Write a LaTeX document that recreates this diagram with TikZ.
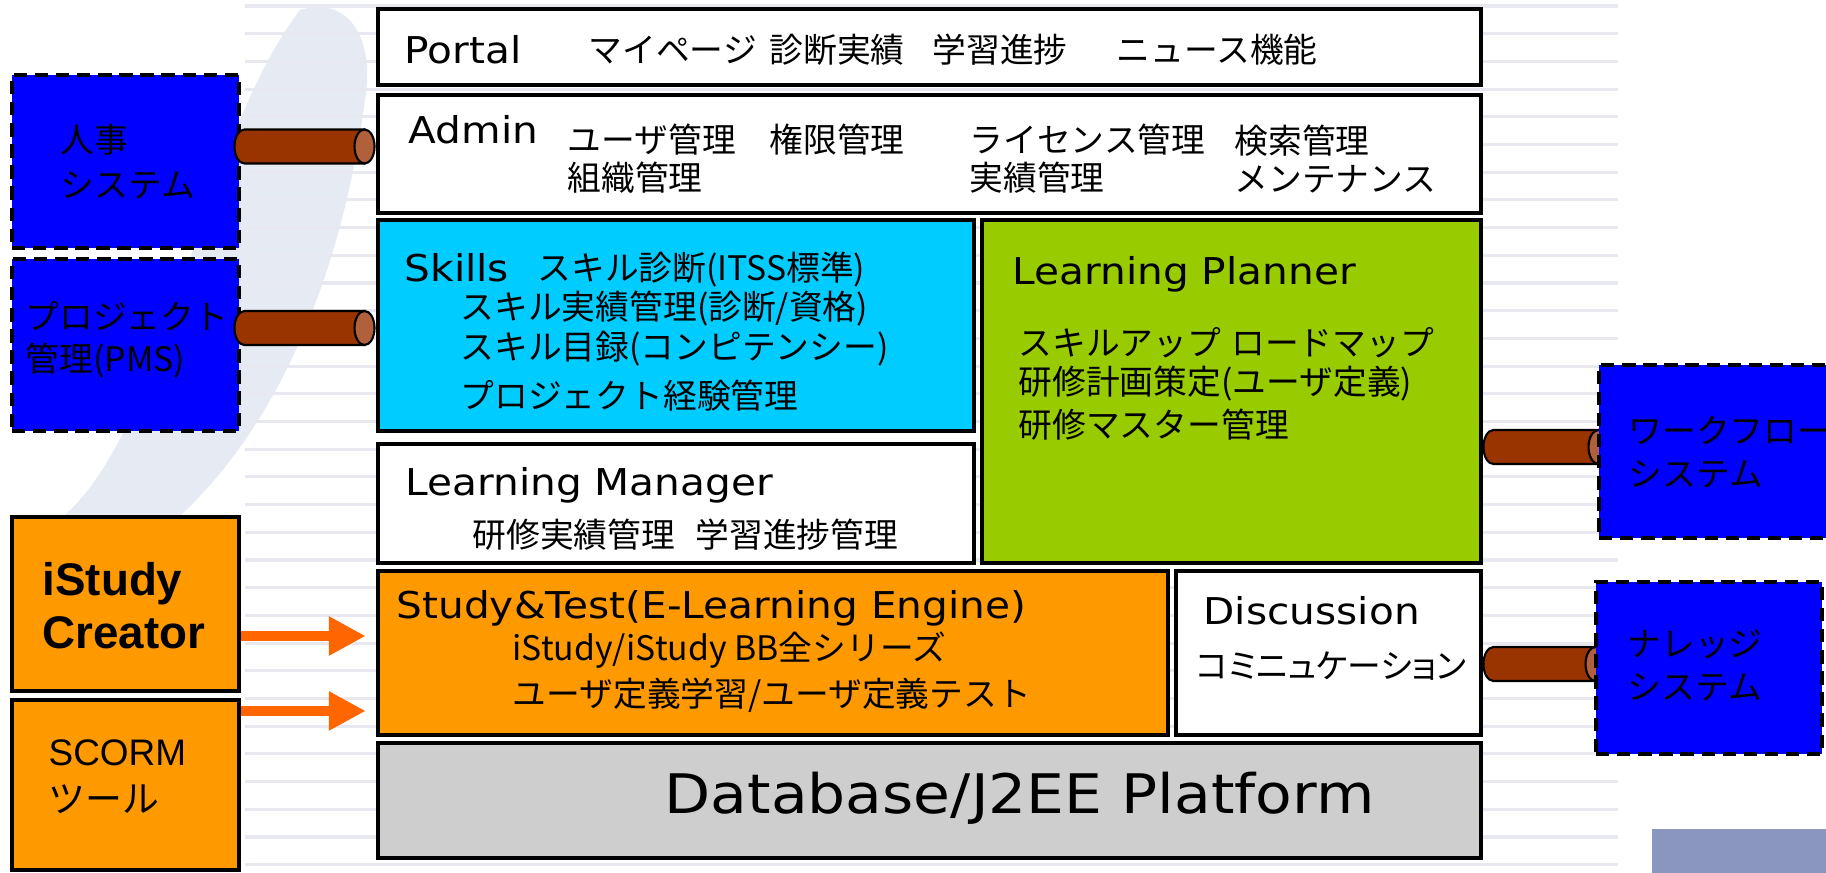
\documentclass[tikz,border=0pt]{standalone}
\usepackage{fontspec}
\setmainfont{Noto Sans CJK JP}
\newfontfamily\lat[FakeStretch=1.1]{DejaVu Sans}
\newfontfamily\arial{Liberation Sans}
\newfontfamily\jpp[RawFeature=+palt]{Noto Sans CJK JP}
\usetikzlibrary{arrows.meta,fit,calc,backgrounds}

\definecolor{skillcyan}{HTML}{00CCFF}
\definecolor{plangreen}{HTML}{99CC00}
\definecolor{engineorange}{HTML}{FF9900}
\definecolor{feedorange}{HTML}{FF6600}
\definecolor{dbgray}{HTML}{CECECE}
\definecolor{pipebrown}{HTML}{993300}
\definecolor{pipeend}{HTML}{B0603A}
\definecolor{ruleline}{HTML}{E8E8F1}
\definecolor{slate}{HTML}{8A96BE}
\definecolor{watermark}{HTML}{E6EBF3}

\tikzset{
  layer/.style={draw=black, line width=1.4pt, inner sep=0pt},
  extsys/.style={draw=black, fill=blue, line width=1.4pt, dash pattern=on 3.8pt off 2.2pt, inner sep=0pt},
  tool/.style={draw=black, fill=engineorange, line width=1.2pt, inner sep=0pt},
  txt/.style={inner sep=0pt, anchor=west, align=left, font=\fontsize{9.6}{10.8}\selectfont},
  ttl/.style={inner sep=0pt, anchor=west, font=\lat\fontsize{10.5}{12}\selectfont},
  feed/.style={feedorange, line width=2.6pt, -{Triangle[length=10.5pt,width=10.5pt]}, shorten >=2.8pt},
  pipebody/.style={draw=black, line width=0.6pt, fill=pipebrown},
  pipecap/.style={draw=black, line width=0.6pt, fill=pipeend},
}

% cylinder pipe from #1 (rounded end) to #2 (cap), at the height of #1
\newcommand\pipe[2]{%
  \draw[pipebody] let \p1=#1, \p2=#2 in
    (\x2,\y1+0.17cm) -- (\x1+0.1cm,\y1+0.17cm)
    arc[start angle=90, end angle=270, x radius=0.1cm, y radius=0.17cm]
    -- (\x2,\y1-0.17cm) -- cycle;
  \draw[pipecap] let \p1=#1, \p2=#2 in
    (\x2,\y1) ellipse[x radius=0.1cm, y radius=0.17cm];
}

\begin{document}
\begin{tikzpicture}[x=0.01cm,y=-0.01cm]
\useasboundingbox (0,0) rectangle (1826,873);

% background
\begin{scope}[on background layer]
  \fill[watermark] (300,10) .. controls (350,-5) and (375,40) .. (365,100)
    .. controls (345,250) and (290,420) .. (170,525)
    .. controls (120,550) and (50,540) .. (65,515)
    .. controls (170,420) and (200,140) .. (300,10) -- cycle;
  \foreach \k in {0,...,31}
    \draw[ruleline, line width=0.9pt] (245,{6+27.7*\k}) -- (1618,{6+27.7*\k});
\end{scope}

% platform layers
\node[layer, fill=white, fit={(378,9) (1481,85)}] (portal) {};
\node[layer, fill=white, fit={(378,95) (1481,213)}] (admin) {};
\node[layer, fill=skillcyan, fit={(378,220) (974,431)}] (skills) {};
\node[layer, fill=plangreen, fit={(982,220) (1481,563)}] (planner) {};
\node[layer, fill=white, fit={(378,444) (974,563)}] (manager) {};
\node[layer, fill=engineorange, fit={(378,571) (1168,735)}] (study) {};
\node[layer, fill=white, fit={(1176,571) (1481,735)}] (discussion) {};
\node[layer, fill=dbgray, fit={(378,743) (1481,858)}] (database) {};

% outside systems
\node[extsys, fit={(12,75) (239,248)}] (hr) {};
\node[extsys, fit={(12,259) (239,431)}] (pms) {};
\node[extsys, fit={(1599,365) (1900,538)}] (workflow) {};
\node[extsys, fit={(1596,582) (1822,754)}] (knowledge) {};
\node[tool, fit={(12,517) (239,691)}] (creator) {};
\node[tool, fit={(12,700) (239,870)}] (scorm) {};
\fill[slate] (1652,829) rectangle (1840,890);

% texts
\node[ttl] (portal-t) at (404,50) {Portal};
\node[txt] (portal-a) at (588,50) {マイページ};
\node[txt] (portal-b) at (769,50) {診断実績};
\node[txt] (portal-c) at (932,50) {学習進捗};
\node[txt] (portal-d) at (1116,50) {ニュース機能};

\node[ttl] (admin-t) at (408,130) {Admin};
\node[txt] (admin-a) at (567,159) {ユーザ管理\\組織管理};
\node[txt] (admin-b) at (769,140) {権限管理};
\node[txt] (admin-c) at (969,159) {ライセンス管理\\実績管理};
\node[txt] (admin-d) at (1234,159) {検索管理\\メンテナンス};

\node[ttl] (skills-t) at (404,268) {Skills};
\node[txt] (skills-a) at (537,270) {スキル診断(ITSS標準)};
\node[txt] (skills-b) at (460,309) {スキル実績管理(診断/資格)};
\node[txt] (skills-c) at (460,349) {スキル目録(コンピテンシー)};
\node[txt] (skills-d) at (460,396) {プロジェクト経験管理};

\node[ttl] (planner-t) at (1012,274) {Learning Planner};
\node[txt] (planner-a) at (1018,343) {スキルアップ\hspace{0.3em}ロードマップ};
\node[txt] (planner-b) at (1018,384) {研修計画策定(ユーザ定義)};
\node[txt] (planner-c) at (1018,425) {研修マスター管理};

\node[ttl] (manager-t) at (405,485) {Learning Manager};
\node[txt] (manager-a) at (472,535) {研修実績管理\hspace{0.6em}学習進捗管理};

\node[ttl] (study-t) at (396,608) {Study\&Test(E-Learning Engine)};
\node[txt] (study-a) at (512,650) {iStudy/iStudy BB全シリーズ};
\node[txt] (study-b) at (512,695) {ユーザ定義学習/ユーザ定義テスト};

\node[ttl] (discussion-t) at (1203,611) {Discussion};
\node[txt, font=\jpp\fontsize{9.6}{10.8}\selectfont] (discussion-a) at (1196,666) {コミニュケーション};

\node[ttl, font=\lat\fontsize{15.5}{18}\selectfont] (database-t) at (664,798) {Database/J2EE Platform};

\node[txt, font=\fontsize{9.6}{12.8}\selectfont] (hr-t) at (60,162) {人事\\システム};
\node[txt, font=\fontsize{9.6}{12}\selectfont] (pms-t) at (25,340) {プロジェクト\\管理(PMS)};
\node[txt, font=\fontsize{9.6}{12.2}\selectfont] (workflow-t) at (1628,452) {ワークフロー\\システム};
\node[txt, font=\fontsize{9.6}{12.2}\selectfont] (knowledge-t) at (1627,665) {ナレッジ\\システム};
\node[txt, font=\arial\bfseries\fontsize{13}{15}\selectfont] (creator-t) at (42,606) {iStudy\\Creator};
\node[txt, font=\fontsize{10.5}{13.4}\selectfont] (scorm-t) at (48,777) {{\arial SCORM}\\ツール};

% content feeds
\coordinate (feed1) at ([yshift=-0.32cm]creator.east);
\coordinate (feed2) at ([yshift=0.74cm]scorm.east);
\draw[feed] (feed1) -- (feed1 -| study.west);
\draw[feed] (feed2) -- (feed2 -| study.west);

% interfaces
\pipe{([xshift=-0.07cm,yshift=0.15cm]hr.east)}{([xshift=-0.11cm]admin.west)}
\pipe{([xshift=-0.07cm,yshift=0.17cm]pms.east)}{([xshift=-0.11cm]skills.west)}
\begin{scope}[on background layer]
  \pipe{([yshift=-0.555cm]planner.east)}{([xshift=0.02cm]workflow.west)}
  \pipe{([yshift=-0.11cm]discussion.east)}{([xshift=0.02cm]knowledge.west)}
\end{scope}
\end{tikzpicture}
\end{document}
